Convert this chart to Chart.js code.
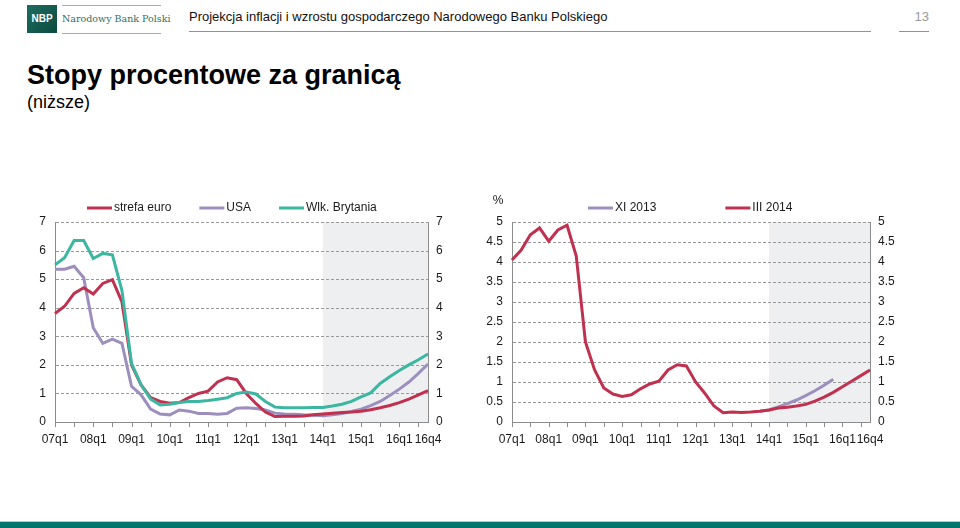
<!DOCTYPE html>
<html>
<head>
<meta charset="utf-8">
<script src="https://cdn.jsdelivr.net/npm/chart.js@4.4.1/dist/chart.umd.min.js"></script>
<style>
  body { margin: 0; width: 960px; height: 528px; background: #fff; font-family: "Liberation Sans", Arial, sans-serif; position: relative; overflow: hidden; }
  .abs { position: absolute; }
  #logo { left: 27px; top: 5px; width: 30px; height: 28px; background: linear-gradient(135deg, #1f6d5f, #0b4a3f); color: #fff; font-weight: bold; font-size: 10px; line-height: 28px; text-align: center; }
  #bank { left: 62px; top: 5px; width: 99px; height: 27px; border-top: 1px solid #8fb8b5; border-bottom: 1px solid #8fb8b5; font-family: "DejaVu Serif", "Liberation Serif", serif; font-size: 9.5px; color: #2d6f69; line-height: 26px; white-space: nowrap; }
  #head { left: 189px; top: 9px; width: 682px; height: 22px; border-bottom: 1px solid #6aa4a6; font-size: 13px; color: #111; }
  #page { left: 899px; top: 9px; width: 30px; height: 22px; border-bottom: 1px solid #6aa4a6; font-size: 13px; color: #999; text-align: right; }
  #title { left: 27px; top: 60px; font-size: 27px; font-weight: bold; color: #000; }
  #sub { left: 27px; top: 92px; font-size: 18px; color: #000; }
  #band { left: 0; top: 521px; width: 960px; height: 7px; background: #00756b; border-top: 1px solid #a8d3d0; }
  .box { position: absolute; }
</style>
</head>
<body>
<div id="logo" class="abs">NBP</div>
<div id="bank" class="abs">Narodowy Bank Polski</div>
<div id="head" class="abs">Projekcja inflacji i wzrostu gospodarczego Narodowego Banku Polskiego</div>
<div id="page" class="abs">13</div>
<div id="title" class="abs">Stopy procentowe za granicą</div>
<div id="sub" class="abs">(niższe)</div>
<div id="band" class="abs"></div>

<div class="box" style="left:20px;top:195px;width:445px;height:255px"><canvas id="leftChart"></canvas></div>
<div class="box" style="left:470px;top:195px;width:445px;height:255px"><canvas id="rightChart"></canvas></div>

<script>
// quarters 07q1 .. 16q4
const quarters = [];
for (let y = 7; y <= 16; y++) {
  for (let q = 1; q <= 4; q++) quarters.push(String(y).padStart(2, '0') + 'q' + q);
}
const forecastStart = 28; // 14q1

// left chart
const euroRate = [3.8, 4.05, 4.5, 4.7, 4.48, 4.85, 4.98, 4.2, 2.0, 1.3, 0.85, 0.72,
  0.66, 0.68, 0.85, 1.0, 1.08, 1.4, 1.55, 1.48, 1.0, 0.65, 0.35, 0.19,
  0.2, 0.2, 0.21, 0.25, 0.28, 0.31, 0.33, 0.35, 0.38, 0.43, 0.5, 0.58,
  0.68, 0.8, 0.95, 1.1];
const usaRate = [5.35, 5.35, 5.45, 5.05, 3.3, 2.75, 2.9, 2.75, 1.25, 0.95, 0.45, 0.28,
  0.25, 0.42, 0.38, 0.3, 0.3, 0.27, 0.3, 0.48, 0.5, 0.47, 0.42, 0.31,
  0.28, 0.27, 0.25, 0.24, 0.22, 0.25, 0.3, 0.37, 0.45, 0.57, 0.72, 0.93,
  1.15, 1.4, 1.7, 2.03];
const ukRate = [5.5, 5.75, 6.35, 6.35, 5.72, 5.9, 5.85, 4.6, 2.05, 1.3, 0.8, 0.6,
  0.62, 0.68, 0.72, 0.72, 0.75, 0.8, 0.85, 1.0, 1.05, 0.98, 0.72, 0.52,
  0.5, 0.5, 0.5, 0.51, 0.51, 0.56, 0.62, 0.72, 0.88, 1.02, 1.35, 1.58,
  1.8, 2.0, 2.18, 2.38];

// right chart
const projNov2013 = [null, null, null, null, null, null, null, null, null, null, null, null,
  null, null, null, null, null, null, null, null, null, null, null, null,
  null, null, null, 0.27, 0.3, 0.38, 0.46, 0.55, 0.66, 0.78, 0.92, 1.07,
  null, null, null, null];
const projMar2014 = [4.05, 4.3, 4.68, 4.85, 4.52, 4.8, 4.92, 4.15, 2.0, 1.3, 0.85, 0.7,
  0.64, 0.68, 0.83, 0.95, 1.02, 1.3, 1.43, 1.4, 1.0, 0.72, 0.4, 0.23,
  0.25, 0.24, 0.25, 0.27, 0.3, 0.35, 0.37, 0.4, 0.44, 0.52, 0.62, 0.74,
  0.88, 1.02, 1.16, 1.3];

const leftTicks = [0, 7, 1];
const rightTicks = [0, 5, 0.5];

const RED = '#c0304f';
const PURPLE = '#9d8fbd';
const TEAL = '#3bb6a0';
const textColor = '#1a1a1a';
const axisColor = '#8c8c8c';

Chart.defaults.font.family = '"Liberation Sans", Arial, sans-serif';
Chart.defaults.font.size = 12;
Chart.defaults.color = textColor;

// grey forecast area, dashed grid, axis tick marks, line legend, unit label
const decor = {
  id: 'decor',
  beforeDatasetsDraw(chart) {
    const { ctx, chartArea, scales } = chart;
    const x0 = scales.x.getPixelForValue(forecastStart);
    ctx.save();
    ctx.fillStyle = '#edeff1';
    ctx.fillRect(x0, chartArea.top, chartArea.right - x0, chartArea.bottom - chartArea.top);
    // dashed grid as 1px rectangles at each y tick
    const ys = scales.y;
    ctx.fillStyle = '#999999';
    ys.ticks.forEach(t => {
      if (t.value === ys.min) return;
      const y = Math.round(ys.getPixelForValue(t.value));
      for (let x = Math.round(chartArea.left) + 1; x < chartArea.right - 1; x += 5) {
        ctx.fillRect(x, y, Math.min(3, chartArea.right - x), 1);
      }
    });
    ctx.restore();
  },
  afterDraw(chart, args, opts) {
    const { ctx, chartArea, scales } = chart;
    ctx.save();
    // tick marks every second quarter below the x axis
    ctx.fillStyle = axisColor;
    quarters.forEach((q, i) => {
      if (i % 2 !== 0) return;
      const x = Math.round(scales.x.getPixelForValue(i));
      ctx.fillRect(x, Math.round(chartArea.bottom), 1, 5);
    });
    ctx.font = '12px "Liberation Sans", Arial, sans-serif';
    ctx.textBaseline = 'middle';
    let x = opts.x;
    chart.data.datasets.forEach(ds => {
      ctx.strokeStyle = ds.borderColor;
      ctx.lineWidth = 3;
      ctx.beginPath();
      ctx.moveTo(x, opts.y);
      ctx.lineTo(x + 25, opts.y);
      ctx.stroke();
      ctx.fillStyle = textColor;
      ctx.fillText(ds.label, x + 27, opts.y);
      x += 27 + ctx.measureText(ds.label).width + opts.gap;
    });
    if (opts.unit) {
      ctx.textAlign = 'center';
      ctx.fillText(opts.unit, chartArea.left - 14, opts.y - 7);
    }
    ctx.restore();
  }
};

function makeChart(id, datasets, yt, leftW, rightW, legendOpts) {
  return new Chart(document.getElementById(id), {
    type: 'line',
    data: { labels: quarters, datasets: datasets },
    plugins: [decor],
    options: {
      responsive: true,
      maintainAspectRatio: false,
      animation: false,
      layout: { padding: { top: 27, left: 0, right: 0, bottom: 0 } },
      elements: {
        point: { radius: 0 },
        line: { borderWidth: 3, tension: 0, borderCapStyle: 'butt' }
      },
      plugins: {
        legend: { display: false },
        tooltip: { enabled: false },
        decor: legendOpts
      },
      scales: {
        x: {
          offset: false,
          border: { color: axisColor },
          grid: { drawOnChartArea: false, drawTicks: false },
          ticks: {
            autoSkip: false,
            maxRotation: 0,
            padding: 10,
            callback: (v, i) => (i % 4 === 0 || i === quarters.length - 1 ? quarters[i] : '')
          },
          afterFit: (s) => { s.height = 28; }
        },
        y: {
          position: 'left',
          min: yt[0], max: yt[1],
          border: { color: axisColor },
          grid: { drawOnChartArea: false, drawTicks: false },
          ticks: { stepSize: yt[2], padding: 9, callback: (v) => String(v) },
          afterFit: (s) => { s.width = leftW; }
        },
        y2: {
          position: 'right',
          min: yt[0], max: yt[1],
          border: { color: axisColor },
          grid: { drawOnChartArea: false, drawTicks: false },
          ticks: { stepSize: yt[2], padding: 8, callback: (v) => String(v) },
          afterFit: (s) => { s.width = rightW; }
        }
      }
    }
  });
}

makeChart('leftChart', [
  { label: 'strefa euro', data: euroRate, borderColor: RED, order: 1 },
  { label: 'USA', data: usaRate, borderColor: PURPLE, order: 2 },
  { label: 'Wlk. Brytania', data: ukRate, borderColor: TEAL, order: 0 }
], leftTicks, 35, 37, { x: 67, y: 13, gap: 28 });

makeChart('rightChart', [
  { label: 'XI 2013', data: projNov2013, borderColor: PURPLE, order: 1 },
  { label: 'III 2014', data: projMar2014, borderColor: RED, order: 0 }
], rightTicks, 42, 45, { x: 118, y: 13, gap: 69, unit: '%' });
</script>
</body>
</html>
